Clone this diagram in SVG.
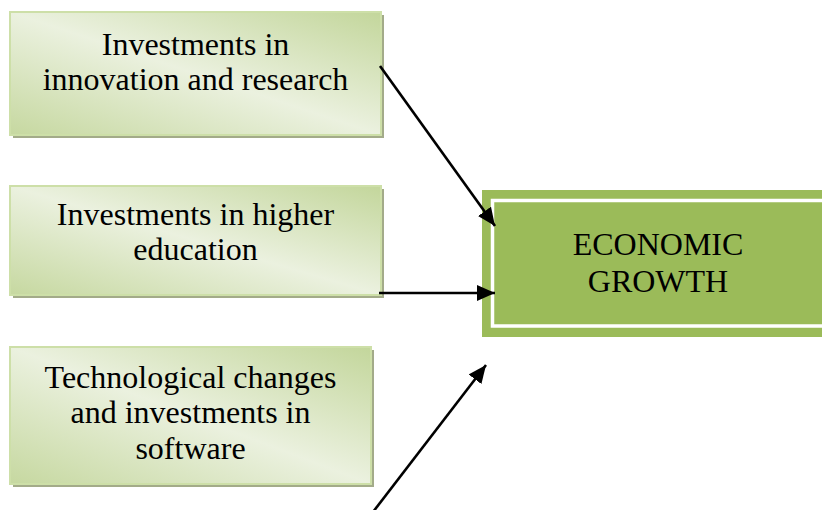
<svg xmlns="http://www.w3.org/2000/svg" width="822" height="510" viewBox="0 0 822 510">
  <defs>
    <linearGradient id="softGreen" x1="1" y1="0" x2="0" y2="1">
      <stop offset="0" stop-color="#c3d69b"/>
      <stop offset="0.5" stop-color="#ebf1df"/>
      <stop offset="1" stop-color="#c6d8a0"/>
    </linearGradient>
    <marker id="arrowHead" markerUnits="userSpaceOnUse" markerWidth="19" markerHeight="17" refX="18" refY="8" orient="auto">
      <path d="M0,0 L18,8 L0,16 Z" fill="#000"/>
    </marker>
  </defs>
  <style>
    .shadow { fill: #a3ab89; }
    .card { fill: url(#softGreen); stroke: #cddfa8; stroke-width: 2; }
    .label { font-family: "Liberation Serif", "Times New Roman", serif; font-size: 32px; fill: #000; text-anchor: middle; }
    .link { stroke: #000; stroke-width: 2.6; fill: none; marker-end: url(#arrowHead); }
  </style>

  <rect width="822" height="510" fill="#fff"/>

  <g id="innovation">
    <rect class="shadow" x="13" y="15" width="371" height="123"/>
    <rect class="card" x="10" y="12" width="371" height="123"/>
    <text class="label" x="195.5" y="55">Investments in</text>
    <text class="label" x="195.5" y="90">innovation and research</text>
  </g>

  <g id="education">
    <rect class="shadow" x="13" y="189" width="371" height="109"/>
    <rect class="card" x="10" y="186" width="371" height="109"/>
    <text class="label" x="195.5" y="225">Investments in higher</text>
    <text class="label" x="195.5" y="260">education</text>
  </g>

  <g id="technology">
    <rect class="shadow" x="13" y="350" width="361" height="137"/>
    <rect class="card" x="10" y="347" width="361" height="137"/>
    <text class="label" x="190.5" y="388">Technological changes</text>
    <text class="label" x="190.5" y="423">and investments in</text>
    <text class="label" x="190.5" y="459">software</text>
  </g>

  <g id="growth">
    <rect x="482" y="190" width="345" height="147" fill="#9bbb59"/>
    <rect x="492.5" y="200.5" width="340" height="125.5" fill="#9bbb59" stroke="#fff" stroke-width="3.5"/>
    <text class="label" x="658" y="255">ECONOMIC</text>
    <text class="label" x="658" y="292">GROWTH</text>
  </g>

  <g id="connectors">
    <line class="link" x1="380" y1="66" x2="495" y2="226"/>
    <line class="link" x1="379" y1="293" x2="495" y2="293"/>
    <line class="link" x1="373" y1="512" x2="486" y2="365"/>
  </g>
</svg>
